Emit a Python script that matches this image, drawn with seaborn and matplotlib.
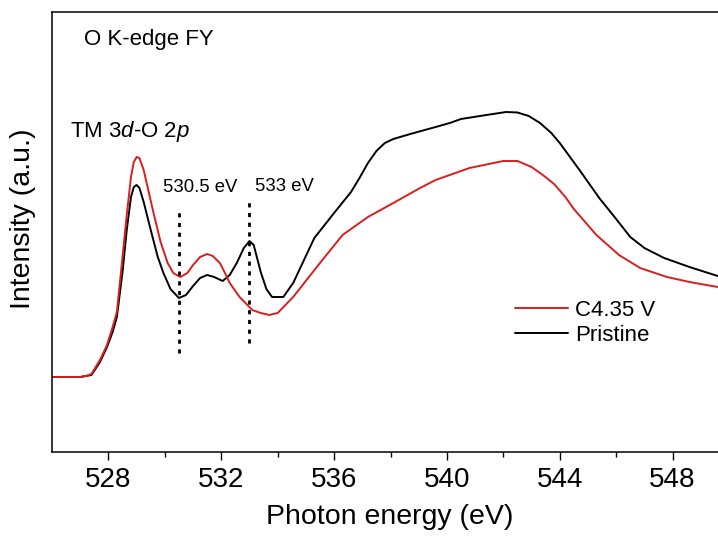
import numpy as np
import pandas as pd
import matplotlib
matplotlib.use("Agg")
import matplotlib.pyplot as plt
import seaborn as sns

# ---- data (arbitrary units) ----
energy_pristine = [526.0, 527.0, 527.2, 527.4, 527.7, 527.95, 528.15, 528.3, 528.5,
                   528.65, 528.8, 528.9, 529.0, 529.1, 529.25, 529.5, 529.75, 529.95,
                   530.2, 530.5, 530.75, 531.0, 531.25, 531.5, 531.75, 532.05, 532.3,
                   532.55, 532.8, 533.0, 533.15, 533.4, 533.6, 533.8, 534.2, 534.55,
                   534.9, 535.3, 536.0, 536.6, 536.9, 537.2, 537.5, 537.8, 538.1,
                   538.7, 539.6, 540.1, 540.5, 541.4, 542.1, 542.5, 542.9, 543.3,
                   543.7, 544.0, 544.7, 545.4, 546.0, 546.5, 547.0, 547.7, 548.6,
                   549.6, 550.0]
intensity_pristine = [75, 75, 76, 77, 90, 105, 120, 135, 180,
                      222, 255, 265, 267, 264, 250, 222, 195, 179,
                      163, 154, 157, 166, 174, 177, 175, 171, 177,
                      189, 204, 211, 207, 180, 163, 155, 155, 169,
                      190, 214, 239, 260, 274, 289, 301, 309, 313,
                      318, 325, 329, 333, 337, 340, 339.5, 336, 329,
                      319, 309, 282, 254, 233, 215, 204, 194, 185,
                      176, 173]

energy_charged = [526.0, 527.0, 527.2, 527.4, 527.7, 527.95, 528.15, 528.3, 528.5,
                  528.65, 528.8, 528.9, 529.0, 529.1, 529.25, 529.6, 529.85, 530.1,
                  530.3, 530.55, 530.8, 531.0, 531.25, 531.5, 531.7, 531.95, 532.15,
                  532.3, 532.65, 533.1, 533.4, 533.7, 534.0, 534.55, 535.5, 536.3,
                  537.2, 538.1, 539.05, 539.6, 540.8, 542.0, 542.5, 543.0, 543.4,
                  543.8, 544.2, 544.5, 545.3, 546.1, 546.85, 547.8, 548.6, 549.6,
                  550.0]
intensity_charged = [75, 75, 76, 78, 92, 107, 125, 140, 195,
                     237, 275, 290, 295, 294, 282, 239, 210, 189,
                     179, 175, 179, 187, 195, 198, 196, 189, 178,
                     169, 155, 142, 139, 137, 139, 155, 189, 217,
                     235, 249, 264, 272, 284, 291, 291, 285, 277,
                     268, 255, 243, 217, 197, 184, 175, 170, 165,
                     163]

labels = ["C4.35 V", "Pristine"]
colors = ["#d81e1e", "#000000"]
marker_energies = [530.5, 533.0]
marker_labels = ["530.5 eV", "533 eV"]
xticks = [528, 532, 536, 540, 544, 548]

df_p = pd.DataFrame({"energy": energy_pristine, "intensity": intensity_pristine})
df_c = pd.DataFrame({"energy": energy_charged, "intensity": intensity_charged})

sns.set_theme(style="ticks")
plt.rcParams["font.family"] = ["Liberation Sans", "DejaVu Sans"]
plt.rcParams["mathtext.fontset"] = "custom"
plt.rcParams["mathtext.rm"] = "Liberation Sans"
plt.rcParams["mathtext.it"] = "Liberation Sans:italic"
plt.rcParams["text.color"] = "black"
plt.rcParams["axes.labelcolor"] = "black"
plt.rcParams["xtick.color"] = "black"
plt.rcParams["xtick.labelcolor"] = "black"
plt.rcParams["axes.edgecolor"] = "black"

W, H = 718, 542
fig = plt.figure(figsize=(W / 100, H / 100), dpi=100)
ax = fig.add_axes([52 / W, 90 / H, 677 / W, 440 / H])

sns.lineplot(data=df_p, x="energy", y="intensity", ax=ax, color=colors[1],
             lw=1.4, label=labels[1])
sns.lineplot(data=df_c, x="energy", y="intensity", ax=ax, color=colors[0],
             lw=1.4, label=labels[0])

# dotted markers
ax.vlines(marker_energies[0], 99, 244, colors="black", lw=2.0,
          linestyles=(0, (1.5, 2.0)))
ax.vlines(marker_energies[1], 109, 254, colors="black", lw=2.0,
          linestyles=(0, (1.5, 2.0)))

ax.set_xlim(526, 550)
ax.set_ylim(0, 440)
ax.set_xticks(xticks)
ax.set_xticks([530, 534, 538, 542, 546], minor=True)
ax.set_yticks([])
ax.tick_params(axis="x", which="major", direction="out", length=6, width=1.0,
               labelsize=20, pad=5, color="black", labelcolor="black")
ax.tick_params(axis="x", which="minor", direction="out", length=3.5, width=1.0,
               color="black")
for s in ax.spines.values():
    s.set_linewidth(1.1)
    s.set_color("black")
ax.spines["right"].set_visible(False)

ax.set_xlabel("Photon energy (eV)", fontsize=20.5, color="black")
ax.set_ylabel("Intensity (a.u.)", fontsize=20.5, color="black")
ax.xaxis.set_label_coords(0.499, -0.118)
ax.yaxis.set_label_coords(-0.024, 0.53)

ax.text(0.0473, 0.925, "O K-edge FY", transform=ax.transAxes, fontsize=16,
        va="baseline", ha="left", color="black")
ax.text(0.0266, 0.716, r"TM 3$\mathit{d}$-O 2$\mathit{p}$", transform=ax.transAxes,
        fontsize=16, va="baseline", ha="left", color="black")
ax.text(0.164, 0.591, marker_labels[0], transform=ax.transAxes, fontsize=13.3,
        va="baseline", ha="left", color="black")
ax.text(0.300, 0.593, marker_labels[1], transform=ax.transAxes, fontsize=13.3,
        va="baseline", ha="left", color="black")

handles, labs = ax.get_legend_handles_labels()
order = [labs.index(labels[0]), labs.index(labels[1])]
leg = ax.legend([handles[i] for i in order], [labs[i] for i in order],
                loc="upper left", bbox_to_anchor=(0.684, 0.345), frameon=False,
                fontsize=16, handlelength=2.4, handletextpad=0.3, labelspacing=0.15,
                borderpad=0, borderaxespad=0)
for t in leg.get_texts():
    t.set_color("black")

fig.savefig("out.png", dpi=100)
